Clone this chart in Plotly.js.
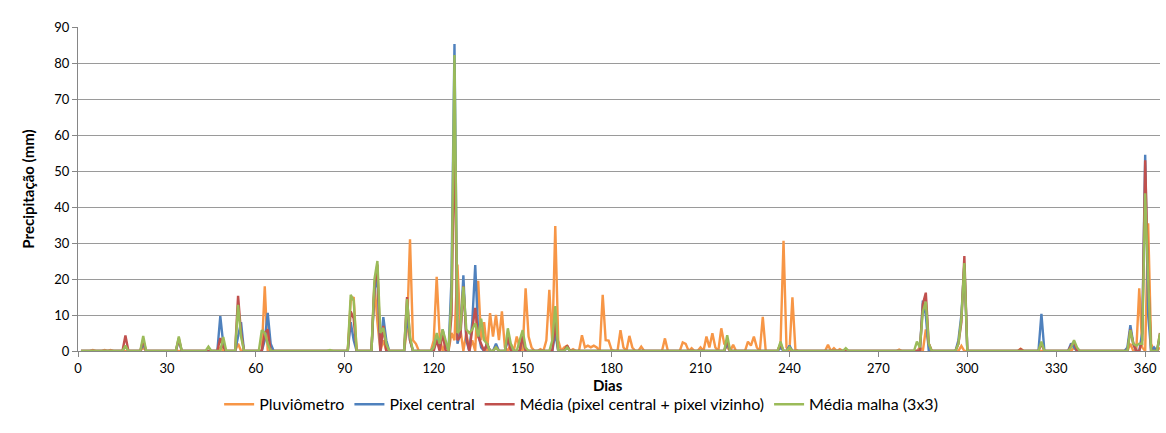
<!DOCTYPE html>
<html><head><meta charset="utf-8">
<script src="https://cdn.plot.ly/plotly-3.0.1.min.js"></script>
<style>html,body{margin:0;padding:0;background:#fff}#chart{width:1166px;height:433px}</style>
</head><body><div id="chart"></div>
<script>
// Nomes das séries
const nomes = ["Pluviômetro", "Pixel central", "Média (pixel central + pixel vizinho)", "Média malha (3x3)"];
const cores = ["#F79646", "#4F81BD", "#C0504D", "#9BBB59"];

// Pluviômetro (dias com chuva e valores em mm)
const pluvDias = [5,9,11,22,48,54,63,92,93,100,101,103,111,112,113,114,120,121,122,124,126,127,128,129,131,133,135,136,137,139,140,141,142,143,144,146,148,149,151,152,153,156,158,159,160,161,162,164,165,167,170,171,172,173,174,175,177,178,179,180,183,184,186,187,190,198,204,205,207,210,212,213,214,215,217,218,219,221,226,227,228,229,231,237,238,239,241,242,253,255,257,277,284,286,287,298,318,336,355,358,359,361,362,365];
const pluvMm   = [0.3,0.3,0.3,1,1,2,18,14,15,19,8,3,6,31,3,2,3,20.6,4,2,5,3,24,6,5,3,19.5,3,8,10.5,4,10,3,11,1,2,4,1,17.4,4,1,0.5,3,17,2,34.7,3,1,1.5,0.5,4.4,1,1.5,1,1.5,1,15.6,3,2.9,0.3,5.8,1,4.2,1,1.2,3.5,2.4,2,0.8,1,4,1,4.9,1,6.3,2,1,1.7,2.6,1.5,4,1,9.5,2,30.6,1,14.9,0.5,1.7,0.8,0.5,0.4,1,6,2,1.4,0.6,1,2,17.4,1,35.5,2,1];

// Pixel central
const pixDias = [16,22,34,48,49,54,55,63,64,65,92,93,100,101,103,104,111,112,120,121,122,123,124,126,127,128,129,130,131,133,134,135,136,138,141,145,146,150,161,165,219,237,240,285,286,297,298,299,325,335,336,354,355,356,359,360,361,363,365];
const pixMm   = [1.5,2,3,9.7,2,4,8,3,10.6,2,8,3,17,20,9.4,3,10,3,1,4,1,6,2,20,85.3,2,5,21,3,8,23.9,5,1,2,2,3,1,4,5,1,2,1,1.5,14,10,3,10,24,10.3,2.1,1,1,7.2,2,5,54.5,10,1,4];

// Média (pixel central + pixel vizinho)
const medDias = [16,22,34,48,49,54,55,63,64,92,93,100,101,103,111,112,121,123,126,127,128,129,130,131,133,134,135,136,138,141,145,150,161,165,219,237,240,285,286,287,297,298,299,318,325,335,336,355,356,359,360,361,365];
const medMm   = [4.3,3,3.5,3.6,1,15.3,5,5,6,11,9,18,24,7,15,3,3,5,10,62,3,4,18,4,6,12,4,2,2,1,4,4,8,1.5,3,2,1,13,16.2,2,2,8,26.4,0.5,2,1.5,2.5,6,2,3,53,20,5];

// Média malha (3x3)
const malDias = [16,22,34,44,49,54,55,62,63,64,85,92,93,100,101,102,103,104,111,112,120,121,122,123,124,126,127,128,129,130,131,132,133,134,135,136,137,138,141,145,146,149,150,151,160,161,165,219,237,240,259,283,284,285,286,287,297,298,299,325,335,336,337,355,356,357,358,359,360,361,365];
const malMm   = [1.5,4.2,4,1.2,3.9,12.8,4,5.8,5,2,0.3,15.6,14,20,25,5,6.4,2,14.4,4,1,5,2,6,3,15,82.2,5,6,17.9,6,5,6,7.7,4,9,3,2,1,6.3,2,3,5.8,1,3,12.5,1,4.4,2.6,1,0.8,2.6,1,11,13.7,2,2,9,24.4,2.6,1,3,1,5.8,2,1.5,2,2,43.8,20,4.9];

// Série diária completa (dias sem chuva = 0)
function diario(dias, valores) {
  const x = [], y = [];
  for (let d = 1; d <= 365; d++) {
    x.push(d);
    const i = dias.indexOf(d);
    y.push(i >= 0 ? valores[i] : 0);
  }
  return {x, y};
}

const series = [[pluvDias, pluvMm], [pixDias, pixMm], [medDias, medMm], [malDias, malMm]];
const traces = series.map((s, k) => {
  const d = diario(s[0], s[1]);
  return {x: d.x, y: d.y, type: 'scatter', mode: 'lines', name: nomes[k],
          line: {color: cores[k], width: 2.4}};
});

const fam = 'Lato, "Open Sans", sans-serif';
const layout = {
  width: 1166, height: 433,
  margin: {l: 78, r: 6, t: 27, b: 82},
  paper_bgcolor: '#fff', plot_bgcolor: '#fff',
  font: {family: fam, color: '#000'},
  showlegend: true,
  legend: {orientation: 'h', x: 0.465, xanchor: 'center', y: -0.112, yanchor: 'top',
           font: {family: fam, size: 16, color: '#000'}, itemwidth: 30},
  xaxis: {range: [0, 365], tickmode: 'linear', tick0: 0, dtick: 30,
          showgrid: false, zeroline: false, showline: true, linecolor: '#868686', linewidth: 1,
          ticks: 'outside', ticklen: 5, tickcolor: '#868686',
          tickfont: {size: 13, color: '#000'}},
  yaxis: {range: [0, 90], tickmode: 'linear', tick0: 0, dtick: 10,
          showgrid: true, gridcolor: '#9a9a9a', gridwidth: 1, zeroline: false,
          showline: true, linecolor: '#868686', linewidth: 1,
          ticks: 'outside', ticklen: 5, tickcolor: '#868686',
          tickfont: {size: 13, color: '#000'},
          title: {text: '<b>Precipitação (mm)</b>', font: {size: 15, color: '#000'}, standoff: 16}},
  annotations: [{text: '<b>Dias</b>', xref: 'paper', yref: 'paper', x: 0.49, y: 0,
                 xanchor: 'center', yanchor: 'top', yshift: -23, showarrow: false,
                 font: {family: fam, size: 15, color: '#000'}}]
};

Plotly.newPlot('chart', traces, layout, {displayModeBar: false, staticPlot: true});
</script>
</body></html>
